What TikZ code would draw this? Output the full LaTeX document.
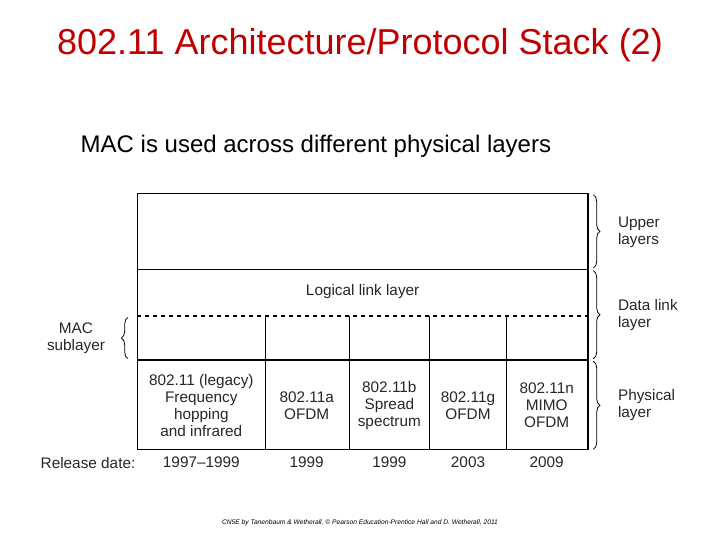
\documentclass[tikz,border=0pt]{standalone}
\usepackage{fontspec}
\setmainfont{Liberation Sans}
\usetikzlibrary{decorations.pathreplacing}
\definecolor{tred}{RGB}{192,0,0}
\begin{document}
\begin{tikzpicture}[x=1pt,y=-1pt,
  txt/.style={font=\fontsize{11.5}{12.8}\selectfont, align=center, text=black!85},
  br/.style={decorate, decoration={brace, amplitude=5pt}, line width=0.6pt},
  box/.style={line width=0.8pt}]
\useasboundingbox (0,0) rectangle (540,405);
\node[text=tred, font=\fontsize{27}{30}\selectfont] (title) at (270,34) {802.11 Architecture/Protocol Stack (2)};
\node[anchor=west, font=\fontsize{18}{20}\selectfont] (sub) at (57,110) {MAC is used across different physical layers};
% boxes
\draw[box] (103,145) rectangle (441,337);
\draw[box] (103,202) -- (441,202);
\draw[box, dashed] (103,237) -- (441,237);
\draw[box] (103,270) -- (441,270);
\foreach \x in {199,262,322,380} \draw[box] (\x,237) -- (\x,337);
\node[txt] (llc) at (272,219) {Logical link layer};
\node[txt] (c1) at (151,304) {802.11 (legacy)\\Frequency\\hopping\\and infrared};
\node[txt] (c2) at (230,304) {802.11a\\OFDM};
\node[txt] (c3) at (292,304) {802.11b\\Spread\\spectrum};
\node[txt] (c4) at (351,304) {802.11g\\OFDM};
\node[txt] (c5) at (410,304) {802.11n\\MIMO\\OFDM};
\node[txt, anchor=west] (rd) at (27,347) {Release date:};
\node[txt] (y1) at (151,347) {1997--1999};
\node[txt] (y2) at (230,347) {1999};
\node[txt] (y3) at (292,347) {1999};
\node[txt] (y4) at (351,347) {2003};
\node[txt] (y5) at (410,347) {2009};
% braces
\draw[br] (445,146) -- (445,201);
\draw[br] (445,203) -- (445,269);
\draw[br] (445,271) -- (445,337);
\draw[br] (96,269) -- (96,238);
\node[txt, align=left, anchor=west] (u) at (460,174) {Upper\\layers};
\node[txt, align=left, anchor=west] (d) at (460,236) {Data link\\layer};
\node[txt, align=left, anchor=west] (p) at (460,304) {Physical\\layer};
\node[txt] (mac) at (57,254) {MAC\\sublayer};
\node[font=\fontsize{5}{6}\selectfont\itshape] (foot) at (270,392) {CN5E by Tanenbaum \& Wetherall, © Pearson Education-Prentice Hall and D. Wetherall, 2011};
\end{tikzpicture}
\end{document}
